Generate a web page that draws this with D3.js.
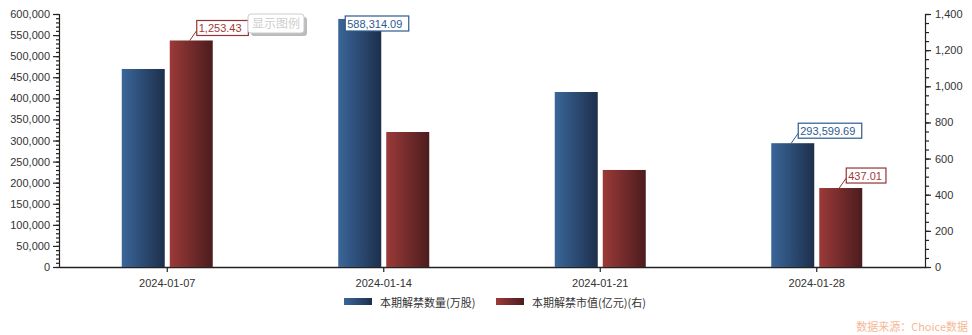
<!DOCTYPE html>
<html>
<head>
<meta charset="utf-8">
<script src="https://cdn.jsdelivr.net/npm/d3@7"></script>
<style>
  body { margin: 0; background: #fff; }
  svg text { font-family: "Liberation Sans", Arial, sans-serif; }
</style>
</head>
<body>
<div id="chart"></div>
<script>
const categories = ["2024-01-07", "2024-01-14", "2024-01-21", "2024-01-28"];
const volumeValues = [469600, 588314.09, 415000, 293599.69];
const marketValues = [1253.43, 747, 537, 437.01];
const leftTicks = [0, 50000, 100000, 150000, 200000, 250000, 300000, 350000, 400000, 450000, 500000, 550000, 600000];
const rightTicks = [0, 200, 400, 600, 800, 1000, 1200, 1400];
const seriesNames = ["本期解禁数量(万股)", "本期解禁市值(亿元)(右)"];
// which points get a value box: [series, index]
const labelled = [[1, 0], [0, 1], [0, 3], [1, 3]];

const width = 972, height = 335;
const margin = { top: 14, right: 47, bottom: 68, left: 59 };
const innerW = width - margin.left - margin.right;
const innerH = height - margin.top - margin.bottom;

const svg = d3.select("#chart").append("svg")
    .attr("width", width)
    .attr("height", height);

const defs = svg.append("defs");
function gradient(id, from, to) {
    const g = defs.append("linearGradient").attr("id", id)
        .attr("x1", "0%").attr("x2", "100%").attr("y1", "0%").attr("y2", "0%");
    g.append("stop").attr("offset", "0%").attr("stop-color", from);
    g.append("stop").attr("offset", "100%").attr("stop-color", to);
}
gradient("gBlue", "#3a6699", "#1d2f4c");
gradient("gRed", "#9b3a39", "#4c1c1d");
const fills = ["url(#gBlue)", "url(#gRed)"];
const lineColors = ["#2e5a8e", "#943434"];

const g = svg.append("g").attr("transform", `translate(${margin.left},${margin.top})`);

const x = d3.scaleBand().domain(categories).range([0, innerW]);
const yL = d3.scaleLinear().domain([0, 600000]).range([innerH, 0]);
const yR = d3.scaleLinear().domain([0, 1400]).range([innerH, 0]);

const barW = 43, gap = 5;

// left axis, minor ticks then major
g.append("g")
    .call(d3.axisLeft(yL).tickValues(d3.range(0, 600001, 10000)).tickSize(3).tickFormat(""))
    .call(s => s.select(".domain").remove());
g.append("g")
    .attr("class", "y-left")
    .call(d3.axisLeft(yL).tickValues(leftTicks).tickSize(6).tickPadding(3).tickFormat(d3.format(",")));

// right axis
g.append("g")
    .attr("transform", `translate(${innerW},0)`)
    .call(d3.axisRight(yR).tickValues(d3.range(0, 1401, 50)).tickSize(4).tickFormat(""))
    .call(s => s.select(".domain").remove());
g.append("g")
    .attr("class", "y-right")
    .attr("transform", `translate(${innerW},0)`)
    .call(d3.axisRight(yR).tickValues(rightTicks).tickSize(6).tickPadding(4).tickFormat(d3.format(",")));

// x axis
g.append("g")
    .attr("class", "x-axis")
    .attr("transform", `translate(0,${innerH})`)
    .call(d3.axisBottom(x).tickSize(5).tickSizeOuter(0).tickPadding(7));

g.selectAll(".tick text").style("font-size", "11px").style("fill", "#333");
g.selectAll(".domain, .tick line").attr("stroke", "#222").attr("stroke-width", 1.2);
g.selectAll(".x-axis .domain").attr("stroke-width", 1.5);

// bars
const series = [volumeValues, marketValues];
const scales = [yL, yR];
function barX(s, i) {
    const c = x(categories[i]) + x.bandwidth() / 2;
    return s === 0 ? c - gap / 2 - barW : c + gap / 2;
}
series.forEach((vals, s) => {
    g.selectAll(".bar" + s)
        .data(vals)
        .enter().append("rect")
        .attr("class", "bar" + s)
        .attr("x", (d, i) => barX(s, i))
        .attr("y", d => scales[s](d))
        .attr("width", barW)
        .attr("height", d => innerH - scales[s](d))
        .attr("fill", fills[s]);
});

// value boxes
const fmt = d3.format(",.2f");
labelled.forEach(([s, i]) => {
    const v = series[s][i];
    const bx = barX(s, i);
    const top = scales[s](v);
    const txt = fmt(v);
    const tw = txt.length * 5.95 + 4;
    let boxX = bx + 27;
    let boxY = top - 20;
    const clamped = boxY < 2;
    if (clamped) { boxY = 2; boxX = bx + 7; }
    const grp = g.append("g");
    if (!clamped) {
        grp.append("line")
            .attr("x1", bx + 20).attr("y1", top)
            .attr("x2", boxX).attr("y2", boxY + 10)
            .attr("stroke", lineColors[s]).attr("stroke-width", 1);
    }
    grp.append("rect")
        .attr("x", boxX).attr("y", boxY)
        .attr("width", tw).attr("height", 15)
        .attr("fill", "#fff")
        .attr("stroke", lineColors[s]).attr("stroke-width", 1.2);
    grp.append("text")
        .attr("x", boxX + 2).attr("y", boxY + 11.5)
        .style("font-size", "11px")
        .style("fill", s === 0 ? "#2e5a8e" : "#a33a3a")
        .text(txt);
});

// "显示图例" button
const btn = svg.append("g").attr("transform", "translate(248,14)");
btn.append("rect").attr("x", 3).attr("y", 3).attr("width", 56).attr("height", 19)
    .attr("rx", 3).attr("fill", "#bbb");
btn.append("rect").attr("x", 0).attr("y", 0).attr("width", 56).attr("height", 19)
    .attr("rx", 3).attr("fill", "#fff").attr("stroke", "#ccc");
btn.append("text").attr("x", 28).attr("y", 14)
    .attr("text-anchor", "middle")
    .style("font-family", "'Noto Sans CJK SC', sans-serif")
    .style("font-size", "12px").style("fill", "#cfcfcf")
    .text("显示图例");

// legend
const legendX = [344, 496];
seriesNames.forEach((name, s) => {
    svg.append("rect")
        .attr("x", legendX[s]).attr("y", 298)
        .attr("width", 28).attr("height", 7)
        .attr("fill", fills[s]);
    svg.append("text")
        .attr("x", legendX[s] + 36).attr("y", 307)
        .style("font-family", "'Noto Sans CJK SC', sans-serif")
        .style("font-size", "11px").style("fill", "#333")
        .text(name);
});

// source
svg.append("text")
    .attr("x", 968).attr("y", 331)
    .attr("text-anchor", "end")
    .style("font-family", "'Noto Sans CJK SC', sans-serif")
    .style("font-size", "11px").style("fill", "#f5b896")
    .text("数据来源：Choice数据");
</script>
</body>
</html>
